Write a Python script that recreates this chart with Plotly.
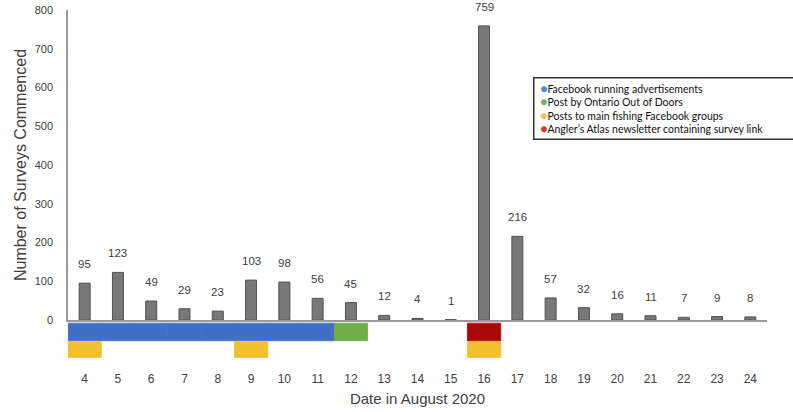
import plotly.graph_objects as go
from plotly.subplots import make_subplots

dates = [str(d) for d in range(4, 25)]
counts = [95, 123, 49, 29, 23, 103, 98, 56, 45, 12, 4, 1, 759, 216, 57, 32, 16, 11, 7, 9, 8]

fb_ads_days = ["4", "5", "6", "7", "8", "9", "10", "11"]
ontario_days = ["12"]
fishing_group_days = ["4", "9", "16"]
anglers_atlas_days = ["16"]

legend_names = [
    "Facebook running advertisements",
    "Post by Ontario Out of Doors",
    "Posts to main fishing Facebook groups",
    "Angler\u2019s Atlas newsletter containing survey link",
]
bar_colors = ["#4070C4", "#70AD47", "#F2BF2F", "#A80808"]
legend_colors = ["#4d88da", "#7db35a", "#f8c24a", "#d23a3a"]

FONT = "Liberation Sans"

fig = make_subplots(rows=2, cols=1, shared_xaxes=True, vertical_spacing=0.0,
                    row_heights=[0.866, 0.134])

fig.add_trace(go.Bar(
    x=dates, y=counts, width=0.33,
    marker=dict(color="#787878", line=dict(color="#505050", width=1)),
    showlegend=False, hoverinfo="x+y",
), row=1, col=1)

row1_base, row2_base = 1.0, 0.05
row_h1, row_h2 = 1.0, 0.9

event_rows = [
    (fb_ads_days, row1_base, row_h1, bar_colors[0]),
    (ontario_days, row1_base, row_h1, bar_colors[1]),
    (fishing_group_days, row2_base, row_h2, bar_colors[2]),
    (anglers_atlas_days, row1_base, row_h1, bar_colors[3]),
]
for days, base, h, col in event_rows:
    fig.add_trace(go.Bar(
        x=days, y=[h] * len(days), base=[base] * len(days), width=1.0,
        marker=dict(color=col, line=dict(color=col, width=0.8)),
        showlegend=False, hoverinfo="x",
    ), row=2, col=1)

annotations = [
    dict(x=i, y=v, xref="x", yref="y", text=str(v), showarrow=False,
         yanchor="bottom", yshift=11,
         font=dict(family=FONT, size=11.5, color="#404040"))
    for i, v in enumerate(counts)
]

legend_text = "<br>".join(
    f"\u00A0<span style='color:{c};font-size:12px'>\u25CF</span>{n}"
    for n, c in zip(legend_names, legend_colors)
)
annotations.append(dict(
    text=legend_text, xref="paper", yref="paper",
    x=0.665, y=0.813, xanchor="left", yanchor="top",
    align="left", valign="middle", showarrow=False,
    width=258, height=54, borderpad=3,
    bordercolor="#333333", borderwidth=1.5, bgcolor="white",
    font=dict(family="Lato", size=10.5, color="#111111"),
))

fig.update_layout(
    width=793, height=412,
    margin=dict(l=68, r=26, t=10, b=44),
    paper_bgcolor="white", plot_bgcolor="white",
    barmode="overlay",
    showlegend=False,
    font=dict(family=FONT, size=12, color="#404040"),
    annotations=annotations,
)

fig.update_xaxes(type="category", categoryorder="array", categoryarray=dates,
                 range=[-0.5, len(dates) - 0.5], automargin=False)
fig.update_xaxes(row=1, col=1, showline=True, linecolor="#9a9a9a", linewidth=1.5,
                 showticklabels=False, ticks="", showgrid=False, zeroline=False)
fig.update_xaxes(row=2, col=1, showline=False, showgrid=False, zeroline=False,
                 ticks="", ticklabelstandoff=2,
                 tickfont=dict(family=FONT, size=12, color="#404040"),
                 title=dict(text="Date in August 2020", standoff=8,
                            font=dict(family=FONT, size=15, color="#404040")))
fig.update_yaxes(row=1, col=1, range=[0, 800], dtick=100, showline=True,
                 linecolor="#9a9a9a", linewidth=1.5, showgrid=False, zeroline=False,
                 ticks="", ticklabelstandoff=11, automargin=False,
                 tickfont=dict(family=FONT, size=11, color="#404040"),
                 title=dict(text="Number of Surveys Commenced", standoff=4,
                            font=dict(family=FONT, size=16, color="#404040")))
fig.update_yaxes(row=2, col=1, range=[-0.55, 2.18], visible=False, fixedrange=True,
                 automargin=False)

fig.write_html("out.html", config={"displayModeBar": False},
               post_script="document.body.style.margin='0';")
